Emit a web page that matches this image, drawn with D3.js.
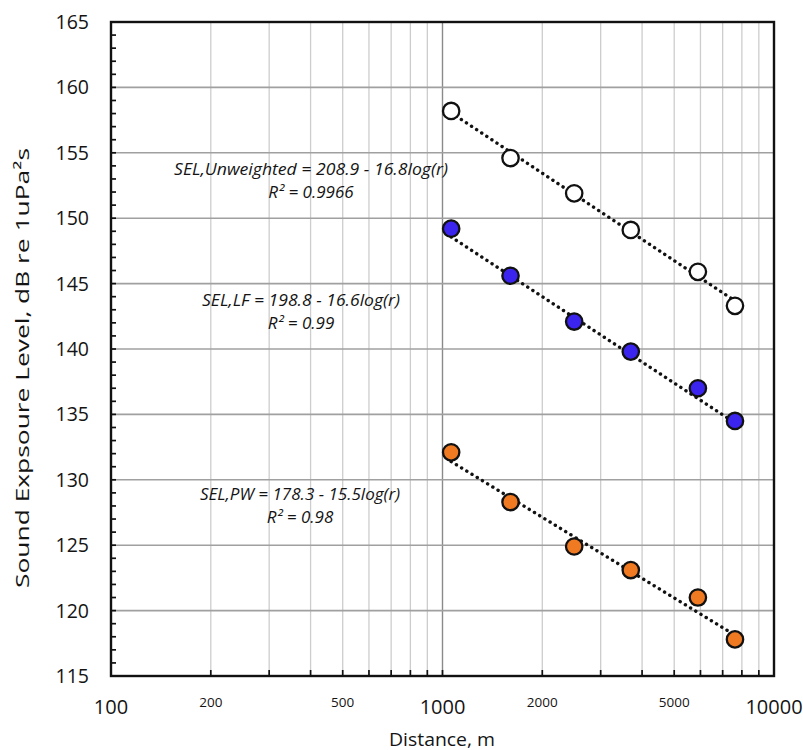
<!DOCTYPE html>
<html>
<head>
<meta charset="utf-8">
<script src="https://cdn.jsdelivr.net/npm/d3@7/dist/d3.min.js"></script>
<style>
  html, body { margin: 0; padding: 0; background: #ffffff; }
  svg { display: block; }
  text { font-family: "Open Sans", "Noto Sans", sans-serif; fill: #141414; }
</style>
</head>
<body>
<svg id="chart" width="803" height="750"></svg>
<script>
// ---------- data ----------
const distances = [1062, 1604, 2496, 3698, 5894, 7626];
const selUnweighted = [158.2, 154.6, 151.9, 149.1, 145.9, 143.3];
const selLF = [149.2, 145.6, 142.1, 139.8, 137.0, 134.5];
const selPW = [132.1, 128.3, 124.9, 123.1, 121.0, 117.8];

const seriesNames = ["Unweighted", "LF", "PW"];
const fitIntercepts = [208.9, 198.8, 178.3];
const fitSlopes = [16.8, 16.6, 15.5];
const fitLabels = ["SEL,Unweighted = 208.9 - 16.8log(r)", "SEL,LF = 198.8 - 16.6log(r)", "SEL,PW = 178.3 - 15.5log(r)"];
const r2Labels = ["R\u00B2 = 0.9966", "R\u00B2 = 0.99", "R\u00B2 = 0.98"];

const xTickValues = [100, 200, 500, 1000, 2000, 5000, 10000];
const xTickLabels = ["100", "200", "500", "1000", "2000", "5000", "10000"];
const yTickValues = [115, 120, 125, 130, 135, 140, 145, 150, 155, 160, 165];

// ---------- layout ----------
const pL = 111, pR = 774, pT = 22, pB = 676;
const svg = d3.select("#chart");
const x = d3.scaleLog().domain([100, 10000]).range([pL, pR]);
const y = d3.scaleLinear().domain([115, 165]).range([pB, pT]);

const colors = ["#ffffff", "#3b25ee", "#f07a22"];
const allSeries = [selUnweighted, selLF, selPW];

// minor log positions
const minorX = [];
[100, 1000].forEach(d => { for (let k = 1; k <= 9; k++) minorX.push(d * k); });
minorX.push(10000);

// vertical grid
svg.append("g").selectAll("line").data(minorX.filter(v => v > 100 && v < 10000)).join("line")
  .attr("x1", d => x(d)).attr("x2", d => x(d))
  .attr("y1", pT).attr("y2", pB)
  .attr("stroke", d => d === 1000 ? "#8a8a8a" : "#cdcdcd")
  .attr("stroke-width", d => d === 1000 ? 1.4 : 1.3);

// horizontal grid
svg.append("g").selectAll("line").data(yTickValues.filter(v => v > 115 && v < 165)).join("line")
  .attr("x1", pL).attr("x2", pR)
  .attr("y1", d => y(d)).attr("y2", d => y(d))
  .attr("stroke", "#a0a0a0").attr("stroke-width", 1.6);

// y axis minor ticks (inside)
const yMinor = d3.range(116, 165, 1);
svg.append("g").selectAll("line").data(yMinor).join("line")
  .attr("x1", pL).attr("x2", pL + 5)
  .attr("y1", d => y(d)).attr("y2", d => y(d))
  .attr("stroke", "#111").attr("stroke-width", 1.7);

// x axis ticks (inside)
svg.append("g").selectAll("line").data(minorX.filter(v => v > 100 && v < 10000)).join("line")
  .attr("x1", d => x(d)).attr("x2", d => x(d))
  .attr("y1", pB).attr("y2", pB - 6)
  .attr("stroke", "#111").attr("stroke-width", 1.7);

// frame
svg.append("rect").attr("x", pL).attr("y", pT)
  .attr("width", pR - pL).attr("height", pB - pT)
  .attr("fill", "none").attr("stroke", "#111").attr("stroke-width", 2.4);

// y tick labels
svg.append("g").selectAll("text").data(yTickValues).join("text")
  .attr("x", 89).attr("y", d => y(d)).attr("dy", "0.36em")
  .attr("text-anchor", "end").attr("font-size", 19.5)
  .text(d => d);

// x tick labels
const bigX = new Set([100, 1000, 10000]);
svg.append("g").selectAll("text").data(xTickValues).join("text")
  .attr("x", d => x(d)).attr("y", d => bigX.has(d) ? 714 : 707)
  .attr("text-anchor", "middle")
  .attr("font-size", d => bigX.has(d) ? 20 : 13.5)
  .text((d, i) => xTickLabels[i]);

// axis titles
svg.append("text").attr("x", 442).attr("y", 746).attr("text-anchor", "middle")
  .attr("font-size", 18).attr("textLength", 106).attr("lengthAdjust", "spacingAndGlyphs")
  .text("Distance, m");
svg.append("text").attr("transform", "translate(29,368) rotate(-90)")
  .attr("text-anchor", "middle").attr("font-size", 18)
  .attr("textLength", 440).attr("lengthAdjust", "spacingAndGlyphs")
  .text("Sound Expsoure Level, dB re 1uPa\u00B2s");

// fit lines
const line = d3.line().x(d => x(d[0])).y(d => y(d[1]));
seriesNames.forEach((name, i) => {
  const x0 = distances[0], x1 = distances[distances.length - 1];
  const pts = [x0, x1].map(r => [r, fitIntercepts[i] - fitSlopes[i] * Math.log10(r)]);
  svg.append("path").datum(pts).attr("d", line)
    .attr("fill", "none").attr("stroke", "#111").attr("stroke-width", 3.4)
    .attr("stroke-linecap", "round").attr("stroke-dasharray", "0.1,6");
});

// markers
allSeries.forEach((vals, i) => {
  svg.append("g").selectAll("circle").data(vals).join("circle")
    .attr("cx", (d, j) => x(distances[j])).attr("cy", d => y(d))
    .attr("r", 8.2).attr("fill", colors[i])
    .attr("stroke", "#111").attr("stroke-width", 2.3);
});

// annotations
const annCx = [311, 301, 300];
const annY1 = [175, 306, 500];
const annLen = [274, 198, 200];
seriesNames.forEach((name, i) => {
  svg.append("text").attr("x", annCx[i]).attr("y", annY1[i])
    .attr("text-anchor", "middle").attr("font-size", 17).attr("font-style", "italic")
    .attr("textLength", annLen[i]).attr("lengthAdjust", "spacingAndGlyphs")
    .text(fitLabels[i]);
  svg.append("text").attr("x", annCx[i]).attr("y", annY1[i] + 23)
    .attr("text-anchor", "middle").attr("font-size", 17).attr("font-style", "italic")
    .text(r2Labels[i]);
});
</script>
</body>
</html>
